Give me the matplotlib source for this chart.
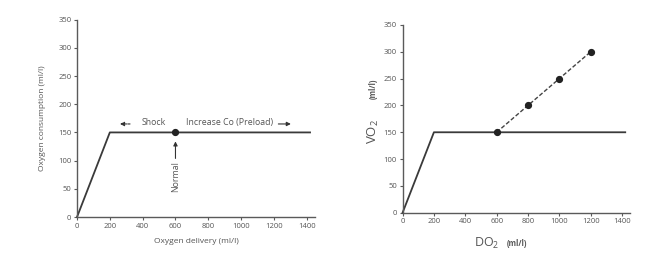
import matplotlib
matplotlib.use('Agg')
import matplotlib.pyplot as plt

plt.rcParams['font.family'] = ['Open Sans', 'DejaVu Sans']
plt.rcParams['mathtext.default'] = 'regular'

# data
curve_x = [0, 200, 1420]
curve_y = [0, 150, 150]
normal_x = [600]
normal_y = [150]
extra_x = [600, 800, 1000, 1200]
extra_y = [150, 200, 250, 300]
xticks = [0, 200, 400, 600, 800, 1000, 1200, 1400]
yticks = [0, 50, 100, 150, 200, 250, 300, 350]

line_c = '#3a3a3a'
axis_c = '#5a5a5a'
text_c = '#555555'

fig = plt.figure(figsize=(6.61, 2.65), dpi=100)
ax1 = fig.add_axes([0.1165, 0.181, 0.360, 0.745])
ax2 = fig.add_axes([0.609, 0.197, 0.344, 0.709])

for ax in (ax1, ax2):
    ax.set_xlim(0, 1450)
    ax.set_ylim(0, 350)
    ax.set_xticks(xticks)
    ax.set_yticks(yticks)
    ax.spines['top'].set_visible(False)
    ax.spines['right'].set_visible(False)
    for s in ('left', 'bottom'):
        ax.spines[s].set_color(axis_c)
        ax.spines[s].set_linewidth(1.0)
    ax.tick_params(colors=axis_c, labelcolor=text_c, labelsize=5.5,
                   length=2.5, width=0.8, pad=1.5)
    ax.plot(curve_x, curve_y, color=line_c, lw=1.3, clip_on=False)

# left panel
ax1.plot(normal_x, normal_y, 'o', color='#222222', ms=4.2, clip_on=False)
ax1.set_xlabel('Oxygen delivery (ml/l)', fontsize=6, color=text_c, labelpad=6)
ax1.set_ylabel('Oxygen consumption (ml/l)', fontsize=6, color=text_c, labelpad=9)
ax1.text(465, 160, 'Shock', fontsize=6.3, color=text_c, ha='center', va='bottom')
ax1.annotate('', xy=(245, 165), xytext=(340, 165),
             arrowprops=dict(arrowstyle='-|>', color='#333333', lw=0.8,
                             linestyle=(0, (2, 1)), mutation_scale=6))
ax1.text(665, 160, 'Increase Co (Preload)', fontsize=6.3, color=text_c,
         ha='left', va='bottom')
ax1.annotate('', xy=(1320, 165), xytext=(1210, 165),
             arrowprops=dict(arrowstyle='-|>', color='#333333', lw=0.8,
                             mutation_scale=6))
ax1.text(600, 71, 'Normal', fontsize=6.3, color=text_c, rotation=90,
         ha='center', va='center')
ax1.annotate('', xy=(600, 139), xytext=(600, 99),
             arrowprops=dict(arrowstyle='-|>', color='#333333', lw=0.8,
                             mutation_scale=6))

# right panel
ax2.plot(extra_x, extra_y, '--', color='#444444', lw=1.0, dashes=(3, 1.5))
ax2.plot(extra_x, extra_y, 'o', color='#222222', ms=4.2, clip_on=False)
ax2.text(0.37, -0.125, 'DO$_2$', transform=ax2.transAxes, fontsize=9,
         color=text_c, ha='center', va='top')
ax2.text(0.505, -0.14, '(ml/l)', transform=ax2.transAxes, fontsize=5.5,
         color=text_c, ha='center', va='top', fontweight='bold')
ax2.text(-0.095, 0.435, 'VO$_2$', transform=ax2.transAxes, fontsize=9.5,
         color=text_c, ha='right', va='center', rotation=90)
ax2.text(-0.11, 0.66, '(ml/l)', transform=ax2.transAxes, fontsize=5.5,
         color=text_c, ha='right', va='center', rotation=90, fontweight='bold')

fig.savefig('out.png', dpi=100)
